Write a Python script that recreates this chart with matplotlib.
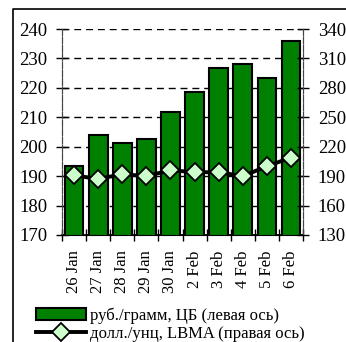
import matplotlib.pyplot as plt
from matplotlib.lines import Line2D

plt.rcParams["font.family"] = ["Liberation Serif", "DejaVu Serif"]

# Gold prices: CB rouble fixing (left axis) and LBMA dollar fixing (right axis)
dates = ["26 Jan", "27 Jan", "28 Jan", "29 Jan", "30 Jan",
         "2 Feb", "3 Feb", "4 Feb", "5 Feb", "6 Feb"]
rub_gram = [193.4, 204.0, 201.3, 202.6, 211.9, 218.7, 226.6, 228.0, 223.2, 236.0]
usd_oz = [190.9, 187.0, 192.0, 190.0, 196.0, 194.0, 194.0, 190.0, 200.0, 209.0]

left_ticks = [170, 180, 190, 200, 210, 220, 230, 240]
right_ticks = [130, 160, 190, 220, 250, 280, 310, 340]

fig = plt.figure(figsize=(3.46, 3.42), dpi=100)
ax = fig.add_axes([0.179, 0.313, 0.697, 0.602])
ax2 = ax.twinx()

x = list(range(len(dates)))
bars = ax.bar(x, rub_gram, width=0.78, color="#008000", edgecolor="black",
              linewidth=1.5, zorder=3)
line, = ax2.plot(x, usd_oz, color="black", linewidth=2.8, marker="D",
                 markersize=9.5, markerfacecolor="#ccffcc",
                 markeredgecolor="black", markeredgewidth=1.3, zorder=4)

ax.set_xlim(-0.5, len(dates) - 0.5)
ax.set_ylim(170, 240)
ax2.set_ylim(130, 340)
ax.set_yticks(left_ticks)
ax2.set_yticks(right_ticks)

# category boundary ticks on x, labels centred on bars
ax.set_xticks([i - 0.5 for i in range(len(dates) + 1)])
ax.set_xticklabels([])
ax.set_xticks(x, minor=True)
ax.set_xticklabels(dates, minor=True, rotation=90, fontsize=12)
ax.tick_params(axis="x", which="minor", length=0, pad=11)
ax.tick_params(axis="x", which="major", direction="inout", length=8, width=1)

ax.tick_params(axis="y", direction="inout", length=9, width=1,
               labelsize=13.5, pad=6)
ax2.tick_params(axis="y", direction="inout", length=9, width=1,
                labelsize=13.5, pad=6)

ax.yaxis.grid(True, color="black", linestyle=(0, (5, 3.5)), linewidth=1)
ax.set_axisbelow(True)

for a in (ax, ax2):
    a.spines["top"].set_visible(False)
    a.spines["left"].set_linestyle((0, (6, 1.5)))
    a.spines["left"].set_color("#444444")
    a.spines["right"].set_linestyle((0, (6, 1.5)))
    a.spines["right"].set_color("#444444")
ax.spines["bottom"].set_linewidth(1.2)

fig.legend([bars, line],
           ["руб./грамм, ЦБ (левая ось)", "долл./унц, LBMA (правая ось)"],
           loc="lower left", bbox_to_anchor=(0.07, -0.033), frameon=False,
           fontsize=12, handlelength=3.0, handletextpad=0.25,
           labelspacing=0.12, borderpad=0.2)

# outer chart frame
fig.add_artist(Line2D([13 / 346, 13 / 346, 1.0], [0.0, 1 - 9 / 342, 1 - 9 / 342],
                      transform=fig.transFigure, color="black", linewidth=1.2))

fig.savefig("out.png", dpi=100)
